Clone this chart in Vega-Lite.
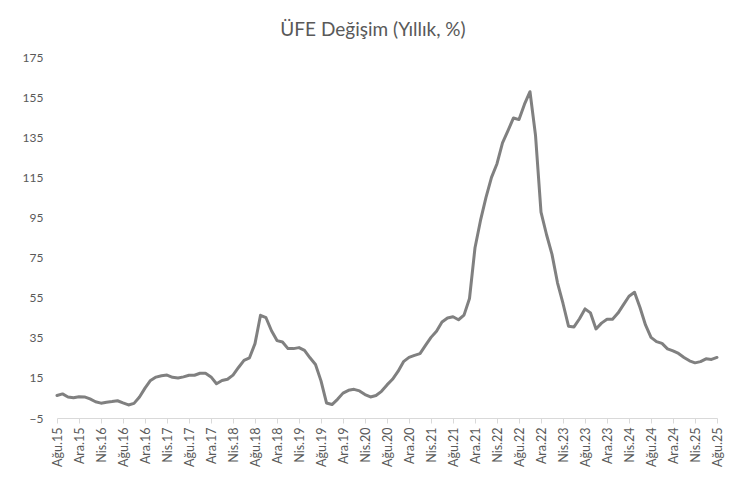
{
  "$schema": "https://vega.github.io/schema/vega-lite/v6.json",
  "autosize": {"type": "none"},
  "padding": {"left": 57, "top": 57, "right": 18, "bottom": 59},
  "width": 660,
  "height": 361,
  "background": "white",
  "title": {"text": "ÜFE Değişim (Yıllık, %)", "font": "Lato", "fontSize": 19, "fontWeight": "normal", "color": "#595959", "anchor": "middle", "dx": -14, "offset": 11},
  "config": {"view": {"stroke": null}},
  "data": {"values": [
    {"m":"Ağu.15","v":6.2},{"m":"Eyl.15","v":7.0},{"m":"Eki.15","v":5.5},{"m":"Kas.15","v":5.1},{"m":"Ara.15","v":5.6},
    {"m":"Oca.16","v":5.5},{"m":"Şub.16","v":4.5},{"m":"Mar.16","v":3.1},{"m":"Nis.16","v":2.4},{"m":"May.16","v":2.9},{"m":"Haz.16","v":3.2},{"m":"Tem.16","v":3.6},{"m":"Ağu.16","v":2.5},{"m":"Eyl.16","v":1.5},{"m":"Eki.16","v":2.3},{"m":"Kas.16","v":5.5},{"m":"Ara.16","v":9.9},
    {"m":"Oca.17","v":13.7},{"m":"Şub.17","v":15.4},{"m":"Mar.17","v":16.1},{"m":"Nis.17","v":16.4},{"m":"May.17","v":15.3},{"m":"Haz.17","v":14.9},{"m":"Tem.17","v":15.5},{"m":"Ağu.17","v":16.3},{"m":"Eyl.17","v":16.3},{"m":"Eki.17","v":17.3},{"m":"Kas.17","v":17.3},{"m":"Ara.17","v":15.5},
    {"m":"Oca.18","v":12.1},{"m":"Şub.18","v":13.7},{"m":"Mar.18","v":14.3},{"m":"Nis.18","v":16.4},{"m":"May.18","v":20.2},{"m":"Haz.18","v":23.7},{"m":"Tem.18","v":25.0},{"m":"Ağu.18","v":32.1},{"m":"Eyl.18","v":46.2},{"m":"Eki.18","v":45.0},{"m":"Kas.18","v":38.5},{"m":"Ara.18","v":33.6},
    {"m":"Oca.19","v":32.9},{"m":"Şub.19","v":29.6},{"m":"Mar.19","v":29.6},{"m":"Nis.19","v":30.1},{"m":"May.19","v":28.7},{"m":"Haz.19","v":25.0},{"m":"Tem.19","v":21.7},{"m":"Ağu.19","v":13.5},{"m":"Eyl.19","v":2.5},{"m":"Eki.19","v":1.7},{"m":"Kas.19","v":4.3},{"m":"Ara.19","v":7.4},
    {"m":"Oca.20","v":8.8},{"m":"Şub.20","v":9.3},{"m":"Mar.20","v":8.5},{"m":"Nis.20","v":6.7},{"m":"May.20","v":5.5},{"m":"Haz.20","v":6.2},{"m":"Tem.20","v":8.3},{"m":"Ağu.20","v":11.5},{"m":"Eyl.20","v":14.3},{"m":"Eki.20","v":18.2},{"m":"Kas.20","v":23.1},{"m":"Ara.20","v":25.2},
    {"m":"Oca.21","v":26.2},{"m":"Şub.21","v":27.1},{"m":"Mar.21","v":31.2},{"m":"Nis.21","v":35.2},{"m":"May.21","v":38.3},{"m":"Haz.21","v":42.9},{"m":"Tem.21","v":44.9},{"m":"Ağu.21","v":45.5},{"m":"Eyl.21","v":44.0},{"m":"Eki.21","v":46.3},{"m":"Kas.21","v":54.6},{"m":"Ara.21","v":79.9},
    {"m":"Oca.22","v":93.5},{"m":"Şub.22","v":105.0},{"m":"Mar.22","v":115.0},{"m":"Nis.22","v":121.8},{"m":"May.22","v":132.2},{"m":"Haz.22","v":138.3},{"m":"Tem.22","v":144.6},{"m":"Ağu.22","v":143.8},{"m":"Eyl.22","v":151.5},{"m":"Eki.22","v":157.7},{"m":"Kas.22","v":136.0},{"m":"Ara.22","v":97.7},
    {"m":"Oca.23","v":86.5},{"m":"Şub.23","v":76.6},{"m":"Mar.23","v":62.4},{"m":"Nis.23","v":52.1},{"m":"May.23","v":40.8},{"m":"Haz.23","v":40.4},{"m":"Tem.23","v":44.5},{"m":"Ağu.23","v":49.4},{"m":"Eyl.23","v":47.4},{"m":"Eki.23","v":39.4},{"m":"Kas.23","v":42.3},{"m":"Ara.23","v":44.2},
    {"m":"Oca.24","v":44.2},{"m":"Şub.24","v":47.3},{"m":"Mar.24","v":51.5},{"m":"Nis.24","v":55.7},{"m":"May.24","v":57.7},{"m":"Haz.24","v":50.1},{"m":"Tem.24","v":41.4},{"m":"Ağu.24","v":35.2},{"m":"Eyl.24","v":33.1},{"m":"Eki.24","v":32.2},{"m":"Kas.24","v":29.5},{"m":"Ara.24","v":28.5},
    {"m":"Oca.25","v":27.2},{"m":"Şub.25","v":25.2},{"m":"Mar.25","v":23.5},{"m":"Nis.25","v":22.5},{"m":"May.25","v":23.1},{"m":"Haz.25","v":24.5},{"m":"Tem.25","v":24.2},{"m":"Ağu.25","v":25.2}
  ]},
  "mark": {"type": "line", "color": "#808080", "strokeWidth": 3, "strokeJoin": "round", "strokeCap": "round"},
  "encoding": {
    "x": {
      "field": "m", "type": "ordinal", "sort": null,
      "scale": {"type": "point", "padding": 0},
      "axis": {
        "title": null,
        "values": ["Ağu.15","Ara.15","Nis.16","Ağu.16","Ara.16","Nis.17","Ağu.17","Ara.17","Nis.18","Ağu.18","Ara.18","Nis.19","Ağu.19","Ara.19","Nis.20","Ağu.20","Ara.20","Nis.21","Ağu.21","Ara.21","Nis.22","Ağu.22","Ara.22","Nis.23","Ağu.23","Ara.23","Nis.24","Ağu.24","Ara.24","Nis.25","Ağu.25"],
        "labelAngle": -90, "labelAlign": "right", "labelBaseline": "middle",
        "labelFont": "Lato", "labelFontSize": 12.5, "labelColor": "#595959",
        "labelPadding": 4, "domainColor": "#d9d9d9", "domainWidth": 1, "tickColor": "#d9d9d9", "tickSize": 5, "grid": false
      }
    },
    "y": {
      "field": "v", "type": "quantitative",
      "scale": {"domain": [-5, 175], "nice": false, "zero": false},
      "axis": {
        "title": null, "values": [-5, 15, 35, 55, 75, 95, 115, 135, 155, 175],
        "domain": false, "ticks": false, "grid": false,
        "labelFont": "Lato", "labelFontSize": 12, "labelColor": "#595959", "labelPadding": 14
      }
    }
  }
}
